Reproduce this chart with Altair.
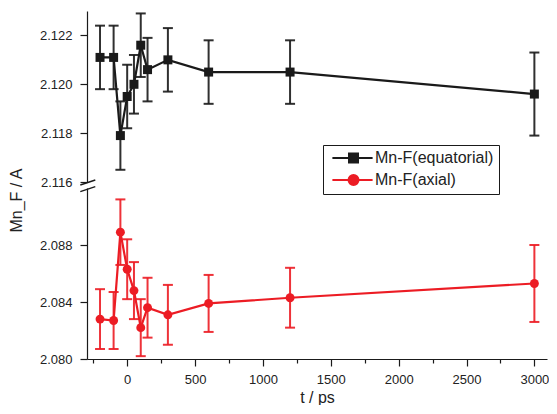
import altair as alt
import pandas as pd

# ---------------- data ----------------
t = [-200, -100, -50, 0, 50, 100, 150, 300, 600, 1200, 3000]
eq = [2.1211, 2.1211, 2.1179, 2.1195, 2.1200, 2.1216, 2.1206, 2.1210, 2.1205, 2.1205, 2.1196]
eq_err = [0.0013, 0.0013, 0.0014, 0.0013, 0.0012, 0.0013, 0.0013, 0.0013, 0.0013, 0.0013, 0.0017]
ax = [2.0828, 2.0827, 2.0889, 2.0863, 2.0848, 2.0822, 2.0836, 2.0831, 2.0839, 2.0843, 2.0853]
ax_err = [0.0021, 0.0020, 0.0023, 0.0021, 0.0020, 0.0020, 0.0021, 0.0021, 0.0020, 0.0021, 0.0027]

series = ["Mn-F(equatorial)", "Mn-F(axial)"]
x_ticks = list(range(-250, 3001, 250))
y_up_ticks = [2.116, 2.117, 2.118, 2.119, 2.120, 2.121, 2.122, 2.123]
y_lo_ticks = [2.080, 2.082, 2.084, 2.086, 2.088, 2.090]

# ---------------- styling ----------------
FONT = "Liberation Sans"
BLACK = "#1a1a1a"
RED = "#ec1c24"
TXT = "#222222"

df_eq = pd.DataFrame({"t": t, "v": eq,
                      "lo": [v - e for v, e in zip(eq, eq_err)],
                      "hi": [v + e for v, e in zip(eq, eq_err)]})
df_ax = pd.DataFrame({"t": t, "v": ax,
                      "lo": [v - e for v, e in zip(ax, ax_err)],
                      "hi": [v + e for v, e in zip(ax, ax_err)]})
df_leg = pd.DataFrame({"s": series, "t": [0, 0], "v": [2.12, 2.12]})
df_one = pd.DataFrame({"k": [0]})

xscale = alt.Scale(domain=[-296, 3093], nice=False, zero=False)
yup = alt.Scale(domain=[2.116, 2.123], nice=False, zero=False)
ylo = alt.Scale(domain=[2.080, 2.092], nice=False, zero=False)

W, H = 460, 171


def yaxis(values, modulo, title=None, **kw):
    test = f"round(datum.value*1000) % {modulo} === 0"
    return alt.Axis(values=values, format=".3f",
                    labelExpr=f"{test} ? datum.label : ''",
                    tickSize={"condition": {"test": test, "value": 7}, "value": 4},
                    grid=False, labelOverlap=False,
                    labelFont=FONT, labelFontSize=13, labelColor=TXT, labelPadding=8,
                    tickColor=BLACK, tickWidth=1.2, domainColor=BLACK, domainWidth=1.2,
                    title=title, titleFont=FONT, titleFontSize=16, titleFontWeight="normal",
                    titleColor=TXT, **kw)


xaxis = alt.Axis(values=x_ticks, format="d",
                 labelExpr="datum.value % 500 === 0 ? datum.label : ''",
                 tickSize={"condition": {"test": "datum.value % 500 === 0", "value": 7}, "value": 4},
                 grid=False, labelOverlap=False, labelFlush=False,
                 labelFont=FONT, labelFontSize=13, labelColor=TXT, labelPadding=7,
                 tickColor=BLACK, tickWidth=1.2, domainColor=BLACK, domainWidth=1.2,
                 title="t / ps", titleFont=FONT, titleFontSize=16, titleFontWeight="normal",
                 titleColor=TXT, titlePadding=3)


def panel(df, color, yscale, axis, shape_mark, xax):
    base = alt.Chart(df)
    x = alt.X("t:Q", scale=xscale, axis=xax, title=None if xax is None else "t / ps")
    err = base.mark_rule(color=color, strokeWidth=2, opacity=0.9).encode(
        x=x, y=alt.Y("lo:Q", scale=yscale, axis=axis), y2="hi:Q")
    cap_lo = base.mark_tick(color=color, thickness=2, size=10, orient="horizontal", opacity=0.9).encode(
        x=x, y=alt.Y("lo:Q", scale=yscale))
    cap_hi = base.mark_tick(color=color, thickness=2, size=10, orient="horizontal", opacity=0.9).encode(
        x=x, y=alt.Y("hi:Q", scale=yscale))
    line = base.mark_line(color=color, strokeWidth=2.2).encode(
        x=x, y=alt.Y("v:Q", scale=yscale))
    pts = shape_mark(base).encode(x=x, y=alt.Y("v:Q", scale=yscale))
    return [err, cap_lo, cap_hi, line, pts]


# custom legend symbols: a line with a marker in the middle (unit = 6 px)
sq_path = "M-0.6,0H6.1M2.17,-0.75H3.67V0.75H2.17Z"
ci_path = "M-0.6,0H6.1M3.75,0A0.83,0.83 0 1 1 2.09,0A0.83,0.83 0 1 1 3.75,0Z"
leg = alt.Legend(title=None, orient="none", legendX=236, legendY=134, padding=5,
                 strokeColor=BLACK, fillColor="white",
                 labelFont=FONT, labelFontSize=16, labelColor=TXT, labelLimit=0,
                 symbolSize=144, symbolStrokeWidth=2, labelOffset=31, rowPadding=4)
legend_layer = alt.Chart(df_leg).transform_filter("false").mark_point(filled=True, opacity=1).encode(
    x=alt.X("t:Q", scale=xscale, axis=None),
    y=alt.Y("v:Q", scale=yup),
    fill=alt.Fill("s:N", scale=alt.Scale(domain=series, range=[BLACK, RED]), legend=leg),
    stroke=alt.Stroke("s:N", scale=alt.Scale(domain=series, range=[BLACK, RED]), legend=leg),
    shape=alt.Shape("s:N", scale=alt.Scale(domain=series, range=[sq_path, ci_path]), legend=leg),
)

upper = alt.layer(
    *panel(df_eq, BLACK, yup, yaxis(y_up_ticks, 2),
           lambda b: b.mark_square(color=BLACK, size=81, opacity=1), None),
    legend_layer,
).properties(width=W, height=H)

brk1 = alt.Chart(df_one).mark_rule(color=BLACK, strokeWidth=1.4).encode(
    x=alt.value(-6.7), x2=alt.value(8.3), y=alt.value(-3), y2=alt.value(-8))
brk2 = alt.Chart(df_one).mark_rule(color=BLACK, strokeWidth=1.4).encode(
    x=alt.value(-6.7), x2=alt.value(8.3), y=alt.value(3.7), y2=alt.value(-1.3))

lower = alt.layer(
    *panel(df_ax, RED, ylo, yaxis(y_lo_ticks, 4, title="Mn_F / A", titleY=12, titlePadding=15),
           lambda b: b.mark_circle(color=RED, size=80, opacity=1), xaxis),
    brk1, brk2,
).properties(width=W, height=H)

chart = alt.vconcat(upper, lower, spacing=6, bounds="flush",
                    padding={"left": 0, "top": 3, "right": 0, "bottom": 0}).configure_view(stroke=None)

chart.save("out.html", embed_options={"renderer": "svg", "actions": False})
